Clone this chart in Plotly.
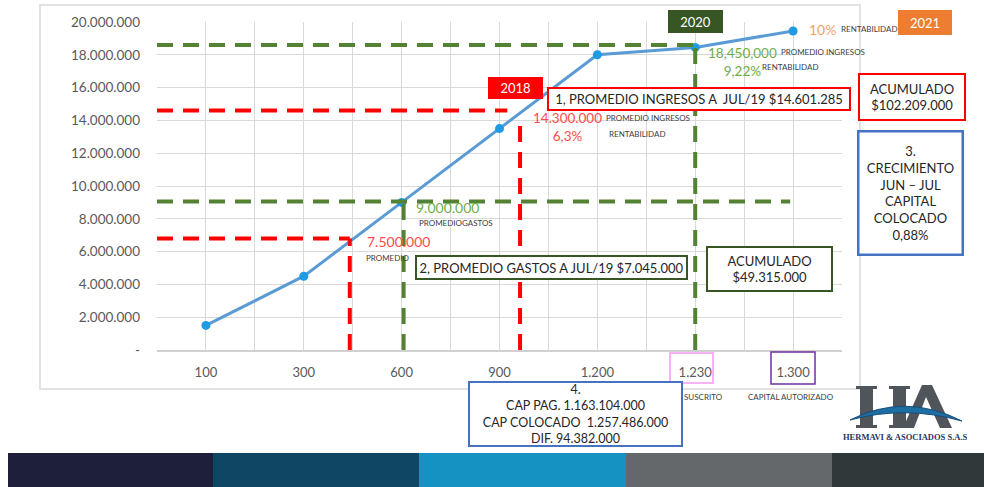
import plotly.graph_objects as go

# ---------------- data ----------------
categories = ["100", "300", "600", "900", "1.200", "1.230", "1.300"]
values = [1500000, 4500000, 9000000, 13500000, 18000000, 18450000, 19450000]

y_tickvals = [0, 2000000, 4000000, 6000000, 8000000, 10000000, 12000000,
              14000000, 16000000, 18000000, 20000000]
y_ticktext = ["-", "2.000.000", "4.000.000", "6.000.000", "8.000.000", "10.000.000",
              "12.000.000", "14.000.000", "16.000.000", "18.000.000", "20.000.000"]

# dashed guide lines (levels)
guide_levels = [18600000, 14600000, 9050000, 6800000]
guide_h_end = [5.0, 3.08, 5.97, 1.47]
guide_v_x = [5.0, 3.21, 2.02, 1.47]
guide_v_top = [18600000, 13900000, 9050000, 6800000]
guide_kind = ["green", "red", "green", "red"]

bar_colors = ["#1E1F3B", "#0E4664", "#1592C1", "#65686B", "#31383A"]
bar_edges = [8, 213, 419, 626, 832, 984]

# ---------------- helpers ----------------
W, H = 984, 487


def px(x):
    return x / W


def py(y):
    return 1 - y / H


def P(x, y):
    return f"{px(x):.5f},{py(y):.5f}"


FONT = "Lato"
GREEN_D = "#548235"
GREEN_BOX = "#375623"
GREEN_T = "#70AD47"
RED = "#FF0000"
RED_T = "#FF4B4B"
BLUE_BOX = "#4472C4"
DARK = "#262626"
SMALL = "#404040"

fig = go.Figure()

fig.add_trace(go.Scatter(
    x=list(range(len(categories))), y=values, mode="lines+markers",
    line=dict(color="#5B9BD5", width=3),
    marker=dict(color="#1E9BE3", size=9),
    hoverinfo="skip", showlegend=False))

shapes = []
# chart area border
shapes.append(dict(type="rect", xref="paper", yref="paper",
                   x0=px(40), x1=px(860), y0=py(389), y1=py(5),
                   line=dict(color="#D9D9D9", width=1.5), layer="below"))

colmap = {"green": GREEN_D, "red": RED}
for lvl, xe, vx, vt, k in zip(guide_levels, guide_h_end, guide_v_x, guide_v_top, guide_kind):
    c = colmap[k]
    shapes.append(dict(type="line", xref="x", yref="y", x0=-0.5, x1=xe, y0=lvl, y1=lvl,
                       line=dict(color=c, width=4, dash="16px,10px")))
    shapes.append(dict(type="line", xref="x", yref="y", x0=vx, x1=vx, y0=0, y1=vt,
                       line=dict(color=c, width=4, dash="16px,10px")))

# tick label boxes
shapes.append(dict(type="rect", xref="paper", yref="paper",
                   x0=px(670), x1=px(713), y0=py(383), y1=py(353),
                   line=dict(color="#F59CF2", width=1.5)))
shapes.append(dict(type="rect", xref="paper", yref="paper",
                   x0=px(771), x1=px(815), y0=py(384), y1=py(352),
                   line=dict(color="#7030A0", width=1.5)))

# bottom colour bar
for i, c in enumerate(bar_colors):
    shapes.append(dict(type="rect", xref="paper", yref="paper",
                       x0=px(bar_edges[i]), x1=px(bar_edges[i + 1]), y0=0, y1=py(453),
                       line=dict(width=0), fillcolor=c))

# ---- logo (drawn) ----
LOGO_G = "#50555C"
# H stems with serifs
for sx in (860, 893):
    pth = (f"M {P(sx - 4, 386)} L {P(sx + 17, 386)} L {P(sx + 17, 389)} L {P(sx + 13, 389)} "
           f"L {P(sx + 13, 425)} L {P(sx + 17, 425)} L {P(sx + 17, 428)} L {P(sx - 4, 428)} "
           f"L {P(sx - 4, 425)} L {P(sx, 425)} L {P(sx, 389)} L {P(sx - 4, 389)} Z")
    shapes.append(dict(type="path", xref="paper", yref="paper", path=pth,
                       fillcolor=LOGO_G, line=dict(width=0)))
# A as a chevron
pa = (f"M {P(903, 428)} L {P(922, 385)} L {P(932, 385)} L {P(952, 428)} L {P(940, 428)} "
      f"L {P(926, 397)} L {P(914, 428)} Z")
shapes.append(dict(type="path", xref="paper", yref="paper", path=pa,
                   fillcolor=LOGO_G, line=dict(width=0)))
# blue arc (crescent)
arc = f"M {P(850, 420)} Q {P(905, 392)} {P(962, 421)} Q {P(905, 405)} {P(850, 420)} Z"
shapes.append(dict(type="path", xref="paper", yref="paper", path=arc,
                   fillcolor="#1D6FA3", line=dict(color="#164E78", width=1)))

annotations = []


def txt(text, cx, cy, size, color, family=FONT, **kw):
    d = dict(text=text, x=px(cx), y=py(cy), xref="paper", yref="paper",
             showarrow=False, xanchor="center", yanchor="middle",
             font=dict(family=family, size=size, color=color))
    d.update(kw)
    annotations.append(d)


def box(text, x0, x1, y0, y1, border, size=13, color=DARK, bg="white", bw=2):
    w = x1 - x0
    h = y1 - y0
    d = dict(text=text, x=px((x0 + x1) / 2), y=py((y0 + y1) / 2), xref="paper", yref="paper",
             showarrow=False, xanchor="center", yanchor="middle",
             font=dict(family=FONT, size=size, color=color),
             bgcolor=bg, bordercolor=border, borderwidth=bw, borderpad=0,
             width=w - 2 * bw, height=h - 2 * bw, align="center")
    annotations.append(d)


# small labels
txt("PROMEDIO INGRESOS", 648, 118, 8, SMALL)
txt("RENTABILIDAD", 637, 134, 8, SMALL)
txt("PROMEDIO INGRESOS", 823, 52, 8, SMALL)
txt("RENTABILIDAD", 790, 67, 8, SMALL)
txt("RENTABILIDAD", 869, 29, 8, SMALL)
txt("PROMEDIOGASTOS", 456, 223, 8, SMALL)
txt("PROMEDIO", 388, 258, 8, SMALL)
txt("SUSCRITO", 703, 397, 8, SMALL)
txt("CAPITAL AUTORIZADO", 791, 397, 8, SMALL)

# coloured value labels
txt("14.300.000<br>6,3%", 567, 127, 13.5, RED_T)
txt("18,450,000<br>9,22%", 742, 61.5, 13.5, GREEN_T)
txt("10%", 822, 29, 14, "#F4A460")
txt("9.000.000", 447, 207, 14, GREEN_T)
txt("7.500.000", 398, 242, 14, RED_T)

# year tags
box("2018", 488, 543, 77, 99, RED, color="white", bg=RED, bw=0)
box("2020", 668, 723, 10, 33, GREEN_BOX, color="white", bg=GREEN_BOX, bw=0)
box("2021", 898, 952, 10, 35, "#ED7D31", color="white", bg="#ED7D31", bw=0)

# text boxes
box("1, PROMEDIO INGRESOS A  JUL/19 $14.601.285", 547, 851, 87, 111, RED, size=13)
box("ACUMULADO<br>$102.209.000", 858, 966, 73, 121, RED, size=13)
box("3.<br>CRECIMIENTO<br>JUN – JUL<br>CAPITAL<br>COLOCADO<br>0,88%", 857, 964, 130, 256,
    BLUE_BOX, size=13, bw=2.5)
box("2, PROMEDIO GASTOS A JUL/19 $7.045.000", 415, 688, 255, 280, GREEN_BOX, size=13)
box("ACUMULADO<br>$49.315.000", 706, 833, 246, 292, GREEN_BOX, size=13)
box("4.<br>CAP PAG. 1.163.104.000<br>CAP COLOCADO  1.257.486.000<br>DIF. 94.382.000",
    468, 683, 381, 447, BLUE_BOX, size=12.5)

# logo text
txt("<b>HERMAVI &amp; ASOCIADOS S.A.S</b>", 905, 437, 8.5, "#1F3864", family="Liberation Serif")

# x tick setup: gridlines at every half category
x_tickvals = [i / 2 - 0.5 for i in range(15)]
x_ticktext = [categories[int(v)] if float(v).is_integer() else "" for v in x_tickvals]

fig.update_layout(
    width=W, height=H,
    margin=dict(l=0, r=0, t=0, b=0, pad=0, autoexpand=False),
    paper_bgcolor="white", plot_bgcolor="white",
    showlegend=False,
    shapes=shapes, annotations=annotations,
    xaxis=dict(domain=[px(157), px(842)], range=[-0.5, 6.5], automargin=False,
               tickvals=x_tickvals, ticktext=x_ticktext, showgrid=True,
               gridcolor="#D9D9D9", gridwidth=1, zeroline=False,
               showline=True, linecolor="#D0D0D0", linewidth=1.5,
               ticks="", ticklabelstandoff=10,
               tickfont=dict(family=FONT, size=13, color="#595959")),
    yaxis=dict(domain=[py(350), py(22)], range=[0, 20000000], automargin=False,
               tickvals=y_tickvals, ticktext=y_ticktext, showgrid=True,
               gridcolor="#D9D9D9", gridwidth=1, zeroline=False, ticks="",
               ticklabelstandoff=16,
               tickfont=dict(family=FONT, size=13.5, color="#595959")),
)

fig.write_html("out.html",
               config={"displayModeBar": False, "staticPlot": True},
               post_script="document.body.style.margin='0px';document.body.style.overflow='hidden';")
